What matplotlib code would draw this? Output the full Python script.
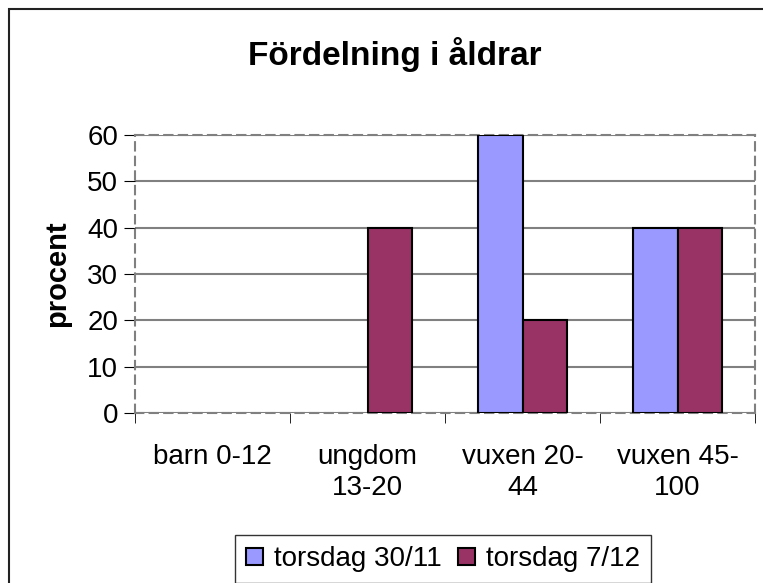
import matplotlib.pyplot as plt
import numpy as np
from matplotlib.patches import Rectangle, Patch

plt.rcParams['font.family'] = ['Liberation Sans', 'DejaVu Sans']

# data
kategorier = ['barn 0-12', 'ungdom\n13-20', 'vuxen 20-\n44', 'vuxen 45-\n100']
torsdag_30_11 = [0, 0, 60, 40]
torsdag_7_12 = [0, 40, 20, 40]
serier = ['torsdag 30/11', 'torsdag 7/12']
farger = ['#9999ff', '#993366']

fig = plt.figure(figsize=(7.63, 5.83), dpi=100)
# yttre ram (höger och nederkant ligger utanför bilden)
fig.patches.append(Rectangle((9/763, -0.1), 1.2, 1.1 - 9/583, transform=fig.transFigure,
                             fill=False, edgecolor='#222222', linewidth=1.5))

ax = fig.add_axes([135/763, 1 - 413/583, 620/763, 278/583])

x = np.arange(len(kategorier))
b = 0.29
bars1 = ax.bar(x - b/2, torsdag_30_11, width=b, color=farger[0], edgecolor='black',
               linewidth=1.5, zorder=3)
bars2 = ax.bar(x + b/2, torsdag_7_12, width=b, color=farger[1], edgecolor='black',
               linewidth=1.5, zorder=3)
# Excel ritar inte staplar med värdet 0
for p in list(bars1) + list(bars2):
    if p.get_height() == 0:
        p.set_visible(False)

ax.set_xlim(-0.5, len(kategorier) - 0.5)
ax.set_ylim(0, 60)
ax.set_yticks(range(0, 61, 10))
ax.set_xticks(x)
ax.set_xticklabels(kategorier, fontsize=20, linespacing=1.25)
ax.set_xticks(np.arange(-0.5, len(kategorier)), minor=True)
ax.tick_params(axis='x', which='major', length=0, pad=22)
ax.tick_params(axis='x', which='minor', length=7, color='black', direction='out')
ax.tick_params(axis='y', labelsize=20, length=8, color='black', pad=4)

ax.yaxis.grid(True, color='#808080', linewidth=1.5, zorder=0)
for s in ax.spines.values():
    s.set_color('#808080')
    s.set_linestyle((0, (4, 3)))
    s.set_linewidth(1.5)

fig.text(395/763, 1 - 55/583, 'Fördelning i åldrar', fontsize=24, fontweight='bold',
         ha='center', va='center')
ax.set_ylabel('procent', fontsize=21, fontweight='bold', labelpad=12)

handles = [Patch(facecolor=c, edgecolor='black', linewidth=1.5) for c in farger]
leg = fig.legend(handles, serier, loc='upper center', bbox_to_anchor=(443/763, 1 - 535/583),
                 ncol=2, fontsize=20, frameon=True, fancybox=False, edgecolor='black',
                 handlelength=0.6, handleheight=0.6, handletextpad=0.4,
                 columnspacing=0.6, borderpad=0.4, borderaxespad=0)
leg.get_frame().set_linewidth(1)

fig.savefig('out.png', dpi=100)
